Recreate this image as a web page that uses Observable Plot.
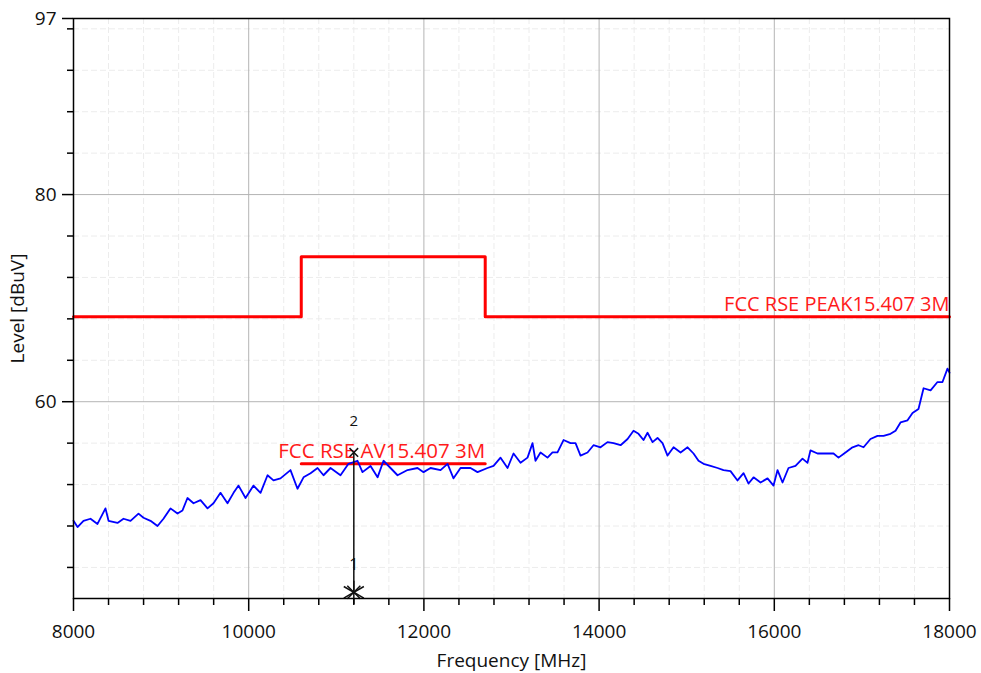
<!DOCTYPE html>
<html>
<head>
<meta charset="utf-8">
<script src="https://cdn.jsdelivr.net/npm/d3@7"></script>
<script src="https://cdn.jsdelivr.net/npm/@observablehq/plot@0.6"></script>
<style>
  html, body { margin: 0; padding: 0; background: #fff; }
  #chart { width: 981px; height: 673px; }
</style>
</head>
<body>
<div id="chart"></div>
<script>
// ---- Data ----
const xTicks = [8000, 10000, 12000, 14000, 16000, 18000];
const xMinorTicks = [8400, 8800, 9200, 9600, 10400, 10800, 11200, 11600, 12400, 12800, 13200, 13600,
                     14400, 14800, 15200, 15600, 16400, 16800, 17200, 17600];
const yTicks = [97, 80, 60];
const yMinorTicks = [44, 48, 52, 56, 64, 68, 72, 76, 84, 88, 92, 96];
const xGrid = [10000, 12000, 14000, 16000];
const yGrid = [80, 60];

const traceFreq = [8000, 8046, 8114, 8194, 8274, 8365, 8400, 8502, 8571, 8651, 8742, 8799, 8879, 8959, 9027,
  9107, 9187, 9244, 9301, 9370, 9450, 9530, 9598, 9678, 9758, 9827, 9884, 9964, 10055, 10135, 10215, 10283,
  10363, 10477, 10557, 10626, 10706, 10786, 10854, 10934, 11048, 11139, 11242, 11299, 11391, 11471, 11539,
  11619, 11699, 11813, 11927, 11996, 12076, 12190, 12270, 12338, 12418, 12532, 12612, 12726, 12795, 12875,
  12955, 13023, 13103, 13183, 13240, 13274, 13331, 13411, 13468, 13525, 13594, 13674, 13731, 13788, 13868,
  13936, 14016, 14096, 14165, 14245, 14325, 14393, 14450, 14507, 14553, 14610, 14667, 14724, 14781, 14850,
  14930, 15010, 15078, 15135, 15192, 15272, 15352, 15420, 15500, 15580, 15649, 15706, 15763, 15843, 15923,
  15991, 16037, 16094, 16162, 16242, 16322, 16379, 16413, 16493, 16585, 16676, 16733, 16813, 16893, 16962,
  17019, 17098, 17178, 17247, 17327, 17384, 17441, 17521, 17578, 17646, 17704, 17784, 17863, 17920, 17977, 18000];
const traceLevel = [48.5, 47.9, 48.5, 48.7, 48.2, 49.7, 48.5, 48.3, 48.7, 48.5, 49.2, 48.8, 48.5, 48.0, 48.7,
  49.7, 49.2, 49.5, 50.7, 50.2, 50.5, 49.7, 50.2, 51.2, 50.2, 51.2, 51.9, 50.7, 51.9, 51.2, 52.9, 52.4,
  52.6, 53.4, 51.6, 52.7, 53.1, 53.6, 52.9, 53.6, 52.9, 54.0, 54.3, 53.2, 53.8, 52.7, 54.3,
  53.6, 52.9, 53.4, 53.6, 53.2, 53.6, 53.4, 54.0, 52.6, 53.6, 53.6, 53.2, 53.6, 53.8, 54.6,
  53.6, 55.0, 54.1, 54.6, 56.0, 54.3, 55.1, 54.6, 55.1, 55.1, 56.3, 56.0, 56.0, 54.8, 55.1,
  55.8, 55.6, 56.1, 56.0, 55.8, 56.4, 57.2, 56.9, 56.3, 57.0, 56.1, 56.5, 56.0, 54.8, 55.6,
  55.1, 55.6, 55.0, 54.3, 54.0, 53.8, 53.6, 53.4, 53.3, 52.4, 53.1, 52.1, 52.7, 52.2, 52.6,
  51.9, 53.4, 52.2, 53.6, 53.8, 54.5, 54.1, 55.3, 55.0, 55.0, 55.0, 54.6, 55.1, 55.6, 55.8,
  55.6, 56.4, 56.7, 56.7, 56.9, 57.2, 58.0, 58.2, 58.9, 59.3, 61.3, 61.1, 61.9, 61.9, 63.2, 62.8];

const peakFreq  = [8000, 10600, 10600, 12700, 12700, 18000];
const peakLevel = [68.2, 68.2, 74, 74, 68.2, 68.2];
const avFreq  = [10600, 12700];
const avLevel = [54, 54];
const peakLabel = "FCC RSE PEAK15.407 3M";
const avLabel = "FCC RSE AV15.407 3M";

const markerFreq = [11200, 11200];
const markerLevel = [41.6, 55.1];
const markerNames = ["1", "2"];

// ---- Tables built from the arrays ----
const trace = traceFreq.map((f, i) => ({f, v: traceLevel[i]}));
const peak = peakFreq.map((f, i) => ({f, v: peakLevel[i]}));
const av = avFreq.map((f, i) => ({f, v: avLevel[i]}));
const markers = markerFreq.map((f, i) => ({f, v: markerLevel[i], name: markerNames[i]}));

const FONT = "'Open Sans', 'Noto Sans', sans-serif";

const chart = Plot.plot({
  width: 981,
  height: 673,
  marginLeft: 73,
  marginRight: 32,
  marginTop: 18,
  marginBottom: 75,
  style: {fontFamily: FONT, fontSize: "19px", color: "#111", background: "#fff", overflow: "visible"},
  x: {domain: [8000, 18000]},
  y: {domain: [41, 97]},
  marks: [
    Plot.gridX(xMinorTicks, {stroke: "#ececec", strokeOpacity: 1, strokeDasharray: "6,3"}),
    Plot.gridY(yMinorTicks, {stroke: "#ececec", strokeOpacity: 1, strokeDasharray: "6,3"}),
    Plot.gridX(xGrid, {stroke: "#b4b4b4", strokeOpacity: 1, strokeWidth: 1}),
    Plot.gridY(yGrid, {stroke: "#b4b4b4", strokeOpacity: 1, strokeWidth: 1}),
    Plot.line(peak, {x: "f", y: "v", stroke: "#ff0000", strokeWidth: 3}),
    Plot.line(av, {x: "f", y: "v", stroke: "#ff0000", strokeWidth: 3}),
    Plot.line(trace, {x: "f", y: "v", stroke: "#0000ff", strokeWidth: 1.8}),
    Plot.text([{f: 18000, v: 68.2}], {x: "f", y: "v", text: () => peakLabel, textAnchor: "end", dy: -12,
      fill: "#ff1a1a", fontSize: 20}),
    Plot.text([{f: 12700, v: 54}], {x: "f", y: "v", text: () => avLabel, textAnchor: "end", dy: -12,
      fill: "#ff1a1a", fontSize: 20.5}),
    Plot.link([0], {x1: () => markerFreq[0], x2: () => markerFreq[1], y1: () => markerLevel[0], y2: () => markerLevel[1],
      stroke: "#111", strokeWidth: 1.5}),
    Plot.dot([markers[0]], {x: "f", y: "v", symbol: "asterisk", r: 11, stroke: "#111", strokeWidth: 1.5}),
    Plot.dot([markers[0]], {x: "f", y: "v", symbol: "times", r: 6, stroke: "#111", strokeWidth: 1.5}),
    Plot.dot([markers[1]], {x: "f", y: "v", symbol: "times", r: 4, stroke: "#111", strokeWidth: 1.5}),
    Plot.text([markers[0]], {x: "f", y: "v", text: "name", dy: -27, fill: "#111", fontSize: 16}),
    Plot.text([markers[1]], {x: "f", y: "v", text: "name", dy: -31, fill: "#111", fontSize: 15}),
    Plot.frame({stroke: "#000", strokeWidth: 1.5}),
    Plot.axisY(yMinorTicks, {tickSize: 6, tickFormat: () => "", label: null, stroke: "#000", strokeWidth: 1.5}),
    Plot.axisX(xMinorTicks, {tickSize: 7, tickFormat: () => "", label: null, stroke: "#000", strokeWidth: 1.5}),
    Plot.axisY(yTicks, {tickSize: 11, tickPadding: 6, tickFormat: d => String(d), stroke: "#000", strokeWidth: 1.5,
      fontSize: 19, label: "Level [dBuV]", labelAnchor: "center", labelArrow: "none", labelOffset: 63}),
    Plot.axisX(xTicks, {tickSize: 13, tickPadding: 13, tickFormat: d => String(d), stroke: "#000", strokeWidth: 1.5,
      fontSize: 19, label: "Frequency [MHz]", labelAnchor: "center", labelArrow: "none", labelOffset: 68})
  ]
});
document.getElementById("chart").appendChild(chart);
</script>
</body>
</html>
